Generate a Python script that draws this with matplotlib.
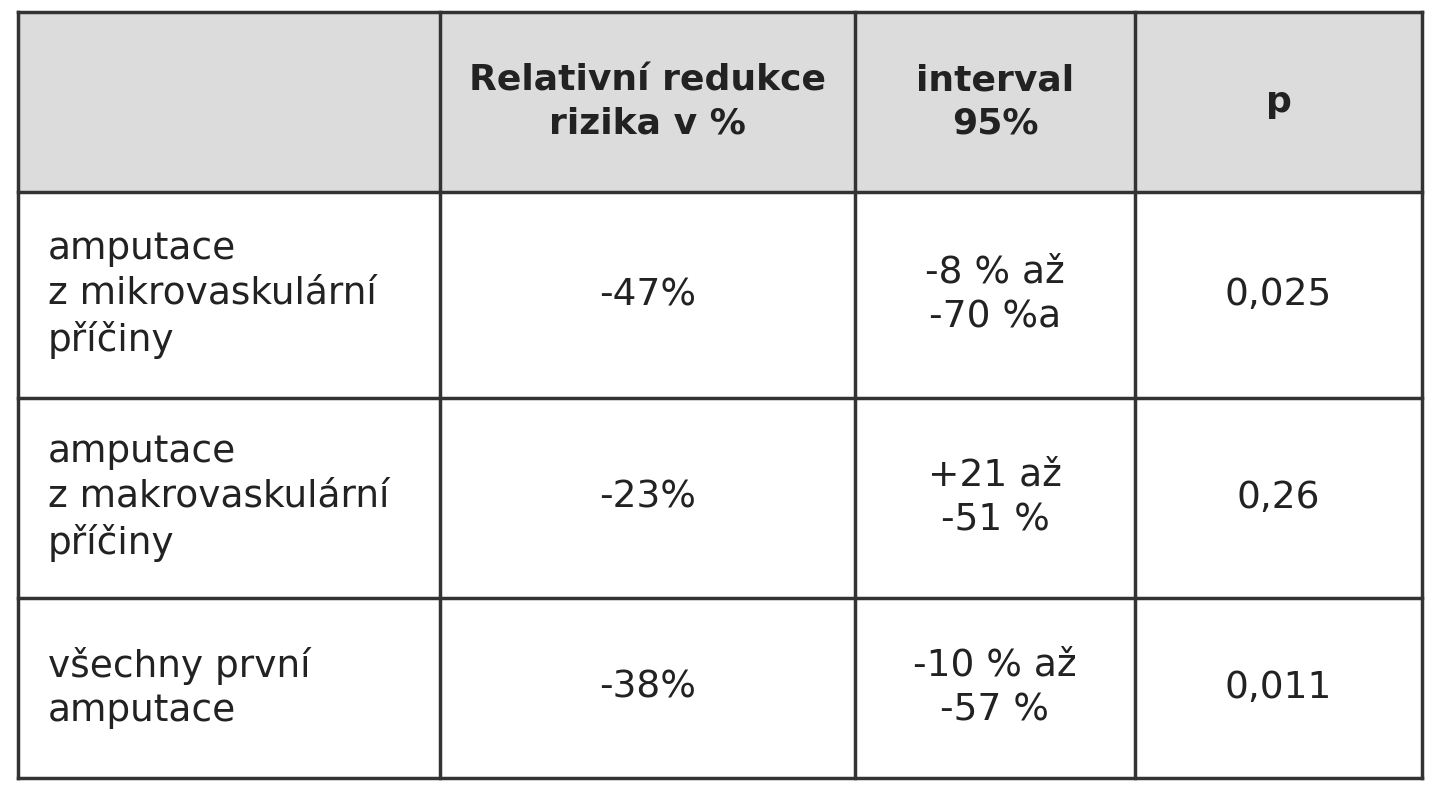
import matplotlib.pyplot as plt

header = ["", "Relativní redukce\nrizika v %", "interval\n95%", "p"]
rows = ["amputace\nz mikrovaskulární\npříčiny",
        "amputace\nz makrovaskulární\npříčiny",
        "všechny první\namputace"]
reduction = ["-47%", "-23%", "-38%"]
interval = ["-8 % až\n-70 %a", "+21 až\n-51 %", "-10 % až\n-57 %"]
pvals = ["0,025", "0,26", "0,011"]

col_x = [18, 440, 855, 1135, 1422]
row_y = [12, 192, 398, 598, 778]

fig = plt.figure(figsize=(14.34, 8), dpi=100)
ax = fig.add_axes([0, 0, 1, 1])
ax.set_xlim(0, 1434)
ax.set_ylim(800, 0)
ax.axis("off")

# header background
ax.fill_between([col_x[0], col_x[-1]], row_y[0], row_y[1], color="#dcdcdc", zorder=0)

for x in col_x:
    ax.plot([x, x], [row_y[0], row_y[-1]], color="#333333", lw=2.5)
for y in row_y:
    ax.plot([col_x[0], col_x[-1]], [y, y], color="#333333", lw=2.5)

fs = 27
for j, h in enumerate(header):
    if h:
        ax.text((col_x[j] + col_x[j + 1]) / 2, (row_y[0] + row_y[1]) / 2, h,
                ha="center", va="center", fontsize=26, fontweight="bold",
                color="#222222", linespacing=1.3, family="DejaVu Sans")

for i in range(3):
    yc = (row_y[i + 1] + row_y[i + 2]) / 2
    ax.text(col_x[0] + 30, yc, rows[i], ha="left", va="center", fontsize=fs,
            color="#222222", linespacing=1.3, family="DejaVu Sans")
    for j, v in enumerate([reduction[i], interval[i], pvals[i]]):
        ax.text((col_x[j + 1] + col_x[j + 2]) / 2, yc, v, ha="center", va="center",
                fontsize=fs, color="#222222", linespacing=1.3, family="DejaVu Sans")

fig.savefig("out.png", dpi=100)
